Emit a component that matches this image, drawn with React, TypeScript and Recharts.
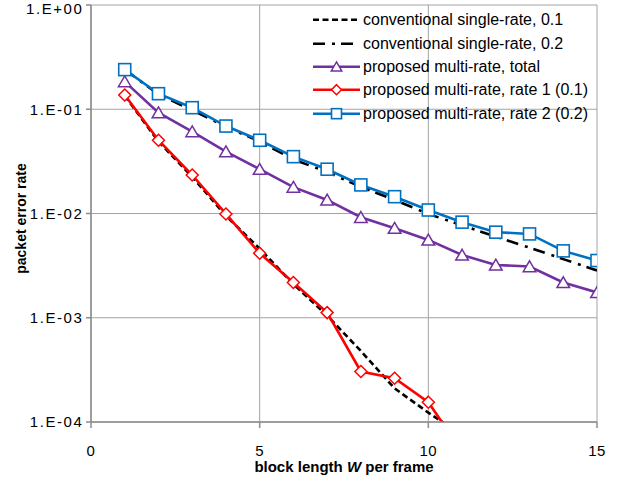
import React from 'react';
import { LineChart, Line, XAxis, YAxis, CartesianGrid, Legend, Label } from 'recharts';

// ---- data ----
const blockLength = [1, 2, 3, 4, 5, 6, 7, 8, 9, 10, 11, 12, 13, 14, 15];
const convSingle01 = [0.135, 0.049, 0.0225, 0.0095, 0.0046, 0.0021, 0.00105, 0.00048, 0.00021, 0.000123, 0.000075];
const convSingle02 = [0.24, 0.139, 0.098, 0.068, 0.049, 0.033, 0.025, 0.018, 0.0135, 0.0099, 0.0077, 0.006, 0.0047, 0.00365, 0.00284];
const multiTotal = [0.184, 0.0927, 0.061, 0.0392, 0.0266, 0.0179, 0.0135, 0.0092, 0.00723, 0.00558, 0.004, 0.00321, 0.0031, 0.00218, 0.00175];
const multiRate1 = [0.137, 0.0504, 0.0234, 0.0099, 0.00416, 0.00218, 0.00112, 0.000305, 0.000263, 0.000155, 0.000052];
const multiRate2 = [0.24, 0.141, 0.1035, 0.069, 0.0504, 0.0351, 0.0266, 0.0188, 0.0145, 0.0108, 0.00826, 0.00662, 0.00637, 0.00438, 0.00354];

const xTicks = [0, 5, 10, 15];
const yTicks = [1e-4, 1e-3, 1e-2, 1e-1, 1];
const Y_MIN = 1e-4;

const seriesNames = [
  'conventional single-rate, 0.1',
  'conventional single-rate, 0.2',
  'proposed multi-rate, total',
  'proposed multi-rate, rate 1 (0.1)',
  'proposed multi-rate, rate 2 (0.2)',
];

const data = blockLength.map((w, i) => ({
  w,
  conv01: convSingle01[i] ?? null,
  conv02: convSingle02[i] ?? null,
  total: multiTotal[i] ?? null,
  rate1: multiRate1[i] ?? null,
  rate2: multiRate2[i] ?? null,
}));

type Marker = 'none' | 'triangle' | 'diamond' | 'square';
interface Series { key: string; name: string; color: string; dash?: string; marker: Marker; }

const series: Series[] = [
  { key: 'conv01', name: seriesNames[0], color: '#000000', dash: '6 3.5', marker: 'none' },
  { key: 'conv02', name: seriesNames[1], color: '#000000', dash: '12 7 3 6', marker: 'none' },
  { key: 'total', name: seriesNames[2], color: '#7030A0', marker: 'triangle' },
  { key: 'rate1', name: seriesNames[3], color: '#FF0000', marker: 'diamond' },
  { key: 'rate2', name: seriesNames[4], color: '#0070C0', marker: 'square' },
];

const FONT = '"Liberation Sans", Arial, sans-serif';

function markerShape(marker: Marker, color: string, cx: number, cy: number, s: number, key?: string) {
  if (marker === 'triangle') {
    const pts = `${cx},${cy - s * 0.95} ${cx + s * 1.05},${cy + s * 0.85} ${cx - s * 1.05},${cy + s * 0.85}`;
    return <polygon key={key} points={pts} fill="#fff" stroke={color} strokeWidth={1.5} />;
  }
  if (marker === 'diamond') {
    const pts = `${cx},${cy - s} ${cx + s},${cy} ${cx},${cy + s} ${cx - s},${cy}`;
    return <polygon key={key} points={pts} fill="#fff" stroke={color} strokeWidth={1.5} />;
  }
  if (marker === 'square') {
    return <rect key={key} x={cx - s} y={cy - s} width={2 * s} height={2 * s} fill="#fff" stroke={color} strokeWidth={1.6} />;
  }
  return null;
}

const makeDot = (sr: Series) => (props: any) => {
  const { cx, cy, index, payload } = props;
  const v = payload ? payload[sr.key] : null;
  const k = `dot-${sr.key}-${index}`;
  if (sr.marker === 'none' || cx == null || cy == null || v == null || v < Y_MIN) return <g key={k} />;
  return markerShape(sr.marker, sr.color, cx, cy, 6, k) as any;
};

const fmtTick = (v: number) => {
  const e = Math.round(Math.log10(v));
  const sign = e >= 0 ? '+' : '-';
  const a = Math.abs(e);
  return `1.E${sign}${a < 10 ? '0' : ''}${a}`;
};

const LegendBox = () => (
  <div style={{ fontFamily: FONT, fontSize: 16, color: '#000' }}>
    {series.map((s) => (
      <div key={s.key} style={{ display: 'flex', alignItems: 'center', height: 23.33, whiteSpace: 'nowrap' }}>
        <svg width={50} height={23.33} style={{ display: 'block', flex: 'none' }}>
          <line x1={0} y1={11.67} x2={47} y2={11.67} stroke={s.color} strokeWidth={2.5} strokeDasharray={s.dash} />
          {markerShape(s.marker, s.color, 23.5, 11.67, 5)}
        </svg>
        <span style={{ lineHeight: '23.33px' }}>{s.name}</span>
      </div>
    ))}
  </div>
);

export default function App() {
  return (
    <div style={{ position: 'absolute', left: 0, top: 0, width: 617, height: 482, background: '#fff' }}>
      <LineChart width={617} height={482} data={data} margin={{ top: 5, right: 20, bottom: 0, left: 0 }}>
        <CartesianGrid stroke="#a3a3a3" strokeWidth={1} />
        <XAxis
          dataKey="w"
          type="number"
          domain={[0, 15]}
          ticks={xTicks}
          allowDataOverflow
          height={60}
          stroke="#8c8c8c"
          strokeWidth={1.5}
          tickSize={6}
          tickMargin={17}
          tick={{ fontSize: 15, fill: '#000', fontFamily: FONT, letterSpacing: 0.5 }}
        >
          <Label
            content={(p: any) => {
              const vb = p.viewBox || { x: 91, y: 422, width: 506, height: 60 };
              return (
                <text x={vb.x + vb.width / 2} y={vb.y + 50} textAnchor="middle" fontFamily={FONT} fontSize={15} fontWeight="bold" fill="#000">
                  block length <tspan fontStyle="italic">W</tspan> per frame
                </text>
              );
            }}
          />
        </XAxis>
        <YAxis
          scale="log"
          type="number"
          domain={[Y_MIN, 1]}
          ticks={yTicks}
          allowDataOverflow
          width={91}
          stroke="#8c8c8c"
          strokeWidth={1.5}
          tickSize={5}
          tickMargin={2.5}
          tickFormatter={fmtTick}
          tick={{ fontSize: 15, fill: '#000', fontFamily: FONT, letterSpacing: 1.6 }}
        >
          <Label
            content={(p: any) => {
              const vb = p.viewBox || { x: 0, y: 5, width: 91, height: 417 };
              const cx = vb.x + 21;
              const cy = vb.y + vb.height / 2 + 5;
              return (
                <text x={cx} y={cy} transform={`rotate(-90, ${cx}, ${cy})`} textAnchor="middle" dominantBaseline="central" fontFamily={FONT} fontSize={14} fontWeight="bold" fill="#000">
                  packet error rate
                </text>
              );
            }}
          />
        </YAxis>
        <Legend
          layout="vertical"
          align="center"
          verticalAlign="middle"
          wrapperStyle={{ position: 'absolute', left: 313, top: 8.33, width: 300, height: 117 }}
          content={() => <LegendBox />}
        />
        {series.map((s) => (
          <Line
            key={s.key}
            dataKey={s.key}
            name={s.name}
            type="linear"
            stroke={s.color}
            strokeWidth={2.6}
            strokeDasharray={s.dash}
            dot={makeDot(s)}
            activeDot={false}
            isAnimationActive={false}
            connectNulls={false}
          />
        ))}
      </LineChart>
    </div>
  );
}
